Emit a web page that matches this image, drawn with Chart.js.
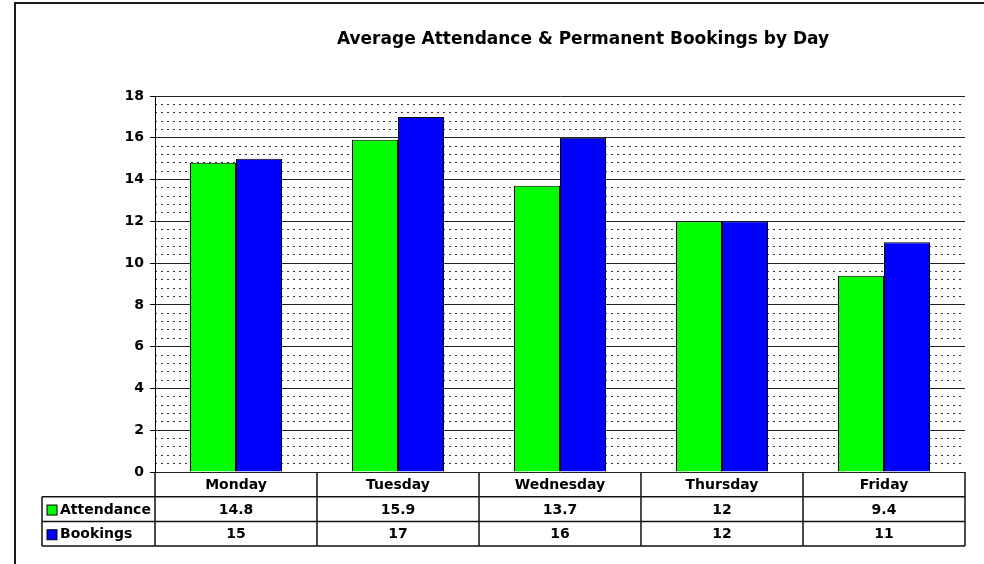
<!DOCTYPE html>
<html>
<head>
<meta charset="utf-8">
<script src="https://cdn.jsdelivr.net/npm/chart.js@4.4.0/dist/chart.umd.min.js"></script>
<style>
  html, body { margin: 0; padding: 0; background: #fff; }
  #wrap { position: relative; width: 984px; height: 564px; }
  #frame { position: absolute; left: 14px; top: 2px; right: 0; bottom: 0; border-top: 2px solid #1a1a1a; border-left: 2px solid #1a1a1a; pointer-events: none; }
</style>
</head>
<body>
<div id="wrap">
  <canvas id="chart" width="984" height="564"></canvas>
  <div id="frame"></div>
</div>
<script>
const titleText = 'Average Attendance & Permanent Bookings by Day';
const days = ['Monday', 'Tuesday', 'Wednesday', 'Thursday', 'Friday'];
const attendance = [14.8, 15.9, 13.7, 12, 9.4];
const bookings = [15, 17, 16, 12, 11];
const seriesNames = ['Attendance', 'Bookings'];
const seriesColors = ['#00ff00', '#0000ff'];
const yTicks = [0, 2, 4, 6, 8, 10, 12, 14, 16, 18];
const minorStep = 0.4;

const FONT = '"DejaVu Sans", "Liberation Sans", Arial, sans-serif';

// title + data table under the plot
const tablePlugin = {
    id: 'dataTable',
    afterDraw(chart) {
        const { ctx, chartArea } = chart;
        const x = chart.scales.x;
        const half = (x.getPixelForValue(1) - x.getPixelForValue(0)) / 2;
        const rowH = 24.7;
        const top = chartArea.bottom;
        const legendLeft = 42;

        ctx.save();
        ctx.fillStyle = '#000';
        ctx.textAlign = 'center';
        ctx.textBaseline = 'middle';
        ctx.font = 'bold 17px ' + FONT;
        ctx.fillText(titleText, 583, 40);

        ctx.strokeStyle = '#111';
        ctx.lineWidth = 1.5;
        const left = x.getPixelForValue(0) - half;
        const right = x.getPixelForValue(days.length - 1) + half;

        // horizontal lines
        ctx.beginPath();
        ctx.moveTo(legendLeft, top + rowH);
        ctx.lineTo(right, top + rowH);
        ctx.moveTo(legendLeft, top + rowH * 2);
        ctx.lineTo(right, top + rowH * 2);
        ctx.moveTo(legendLeft, top + rowH * 3);
        ctx.lineTo(right, top + rowH * 3);
        // vertical lines
        ctx.moveTo(legendLeft, top + rowH);
        ctx.lineTo(legendLeft, top + rowH * 3);
        for (let i = 0; i <= days.length; i++) {
            const px = left + i * half * 2;
            ctx.moveTo(px, top);
            ctx.lineTo(px, top + rowH * 3);
        }
        ctx.stroke();

        ctx.font = 'bold 14px ' + FONT;
        days.forEach((d, i) => {
            ctx.fillText(d, x.getPixelForValue(i), top + rowH / 2 + 1);
        });

        const rows = [attendance, bookings];
        rows.forEach((vals, r) => {
            const cy = top + rowH * (r + 1) + rowH / 2 + 1;
            vals.forEach((v, i) => {
                ctx.textAlign = 'center';
                ctx.fillText(String(v), x.getPixelForValue(i), cy);
            });
            ctx.fillStyle = seriesColors[r];
            ctx.fillRect(47, cy - 5, 10, 10);
            ctx.strokeStyle = '#000';
            ctx.lineWidth = 1;
            ctx.strokeRect(47, cy - 5, 10, 10);
            ctx.fillStyle = '#000';
            ctx.textAlign = 'left';
            ctx.fillText(seriesNames[r], 60, cy);
        });
        ctx.restore();
    }
};

new Chart(document.getElementById('chart').getContext('2d'), {
    type: 'bar',
    data: {
        labels: days,
        datasets: [{
            label: seriesNames[0],
            data: attendance,
            backgroundColor: seriesColors[0],
            borderColor: '#000',
            borderWidth: 1,
            borderSkipped: 'bottom'
        }, {
            label: seriesNames[1],
            data: bookings,
            backgroundColor: seriesColors[1],
            borderColor: '#000',
            borderWidth: 1,
            borderSkipped: 'bottom'
        }]
    },
    options: {
        responsive: false,
        animation: false,
        devicePixelRatio: 1,
        categoryPercentage: 0.568,
        barPercentage: 1,
        layout: { padding: { top: 96, right: 19, bottom: 92, left: 0 } },
        plugins: {
            legend: { display: false },
            tooltip: { enabled: false }
        },
        scales: {
            x: {
                ticks: { display: false },
                grid: { display: false },
                border: { display: false },
                afterFit(scale) { scale.height = 0; }
            },
            yMinor: {
                position: 'left',
                min: 0,
                max: 18,
                ticks: { display: false, stepSize: minorStep },
                grid: {
                    drawTicks: false,
                    color: (c) => (Math.abs(c.tick.value / 2 - Math.round(c.tick.value / 2)) < 0.01 ? 'rgba(0,0,0,0)' : '#333'),
                    lineWidth: 1
                },
                border: { display: false, dash: [2, 4] },
                afterFit(scale) { scale.width = 0; }
            },
            y: {
                position: 'left',
                min: 0,
                max: 18,
                afterBuildTicks(scale) { scale.ticks = yTicks.map(v => ({ value: v })); },
                ticks: {
                    color: '#000',
                    padding: 6,
                    font: { family: FONT, size: 14, weight: 'bold' }
                },
                grid: {
                    color: '#222',
                    lineWidth: 1,
                    tickLength: 5,
                    tickColor: '#000'
                },
                border: { color: '#000', width: 1 },
                afterFit(scale) { scale.width = 155; }
            }
        }
    },
    plugins: [tablePlugin]
});
</script>
</body>
</html>
